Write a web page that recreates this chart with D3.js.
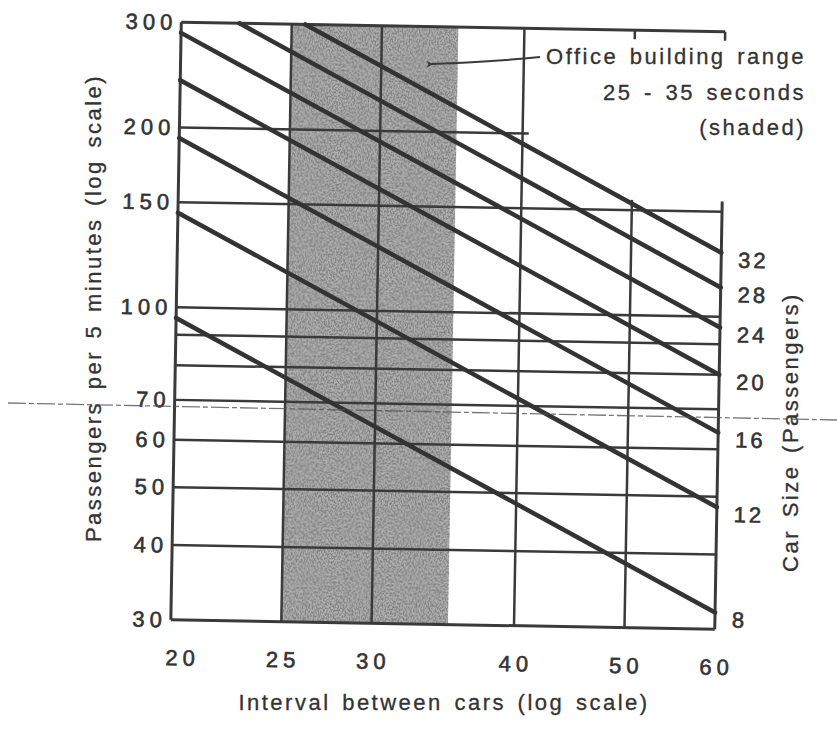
<!DOCTYPE html>
<html>
<head>
<meta charset="utf-8">
<script src="https://cdn.jsdelivr.net/npm/d3@7"></script>
<style>
  body { margin: 0; background: #fff; }
  svg { display: block; }
  text { font-family: "Liberation Sans", Arial, sans-serif; fill: #333; }
  .tick text { font-size: 22px; letter-spacing: 5px; stroke: #333; stroke-width: 0.6px; }
  .title { font-size: 22px; letter-spacing: 2.5px; word-spacing: 3px; stroke: #333; stroke-width: 0.3px; }
  .size { font-size: 22px; letter-spacing: 3px; stroke: #333; stroke-width: 0.6px; }
</style>
</head>
<body>
<svg id="chart" width="837" height="729"></svg>
<script>
// values
var xTicks = [20, 25, 30, 40, 50, 60];
var yTicks = [300, 200, 150, 100, 70, 60, 50, 40, 30];
var gridY = [300, 200, 150, 100, 90, 80, 70, 60, 50, 40, 30];
var gridYEnd = [60, 40.5, 60, 60, 60, 60, 60, 60, 60, 60, 60];
var gridX = [20, 25, 30, 40, 50, 60];
var gridXTop = [300, 300, 300, 300, 156, 156];
var topMarks = [50, 60];

var carSizes = [8, 12, 16, 20, 24, 28, 32];
var startInterval = [20, 20, 20, 20, 20, 22.5, 25.7];
var startPassengers = [96, 144, 192, 240, 288, 300, 300];
var endInterval = [60, 60, 60, 60, 60, 60, 60];
var endPassengers = [32, 48, 64, 80, 96, 112, 128];

var shadedRange = [25, 35];
var noteLines = ["Office building range", "25 - 35 seconds", "(shaded)"];

(function() {
  var svg = d3.select("#chart"),
      plot = {left: 176, right: 720, top: 27, bottom: 624.5},
      ink = "#3a3a3a";

  var x = d3.scaleLog().domain([20, 60]).range([plot.left, plot.right]),
      y = d3.scaleLog().domain([30, 300]).range([plot.bottom, plot.top]);

  var defs = svg.append("defs");

  var grain = defs.append("filter").attr("id", "grain")
      .attr("x", 0).attr("y", 0).attr("width", 1).attr("height", 1);
  grain.append("feTurbulence")
      .attr("type", "fractalNoise")
      .attr("baseFrequency", "0.7 0.5")
      .attr("numOctaves", 2)
      .attr("seed", 7)
      .attr("result", "noise");
  grain.append("feColorMatrix")
      .attr("in", "noise")
      .attr("type", "matrix")
      .attr("values", "0 0 0 0 0.22  0 0 0 0 0.22  0 0 0 0 0.22  4.5 0 0 0 -1.85")
      .attr("result", "specks");
  grain.append("feComposite")
      .attr("in", "specks").attr("in2", "SourceGraphic").attr("operator", "in");

  defs.append("marker").attr("id", "arrow")
      .attr("viewBox", "0 0 10 10")
      .attr("refX", 2).attr("refY", 5)
      .attr("markerWidth", 9).attr("markerHeight", 7)
      .attr("markerUnits", "userSpaceOnUse")
      .attr("orient", "auto-start-reverse")
    .append("path")
      .attr("d", "M0,5 L10,0 L7,5 L10,10 Z")
      .attr("fill", ink);

  // the scanned page sits about one degree off square
  var g = svg.append("g").attr("transform", "rotate(1,448,326)");

  // shaded office range
  g.append("rect")
      .attr("x", x(shadedRange[0]))
      .attr("y", y(300))
      .attr("width", x(shadedRange[1]) - x(shadedRange[0]))
      .attr("height", y(30) - y(300))
      .attr("fill", "#b0b0b0");
  g.append("rect")
      .attr("x", x(shadedRange[0]))
      .attr("y", y(300))
      .attr("width", x(shadedRange[1]) - x(shadedRange[0]))
      .attr("height", y(30) - y(300))
      .attr("fill", "#000")
      .attr("filter", "url(#grain)");

  // grid
  g.selectAll(".hgrid")
    .data(gridY)
    .enter().append("line")
      .attr("class", "hgrid")
      .attr("x1", x(20))
      .attr("x2", function(d, i) { return x(gridYEnd[i]); })
      .attr("y1", function(d) { return y(d); })
      .attr("y2", function(d) { return y(d); })
      .attr("stroke", ink)
      .attr("stroke-width", function(d) { return (d == 300 || d == 30) ? 3 : 2.5; });

  g.selectAll(".vgrid")
    .data(gridX)
    .enter().append("line")
      .attr("class", "vgrid")
      .attr("x1", function(d) { return x(d); })
      .attr("x2", function(d) { return x(d); })
      .attr("y1", function(d, i) { return y(gridXTop[i]); })
      .attr("y2", y(30))
      .attr("stroke", ink)
      .attr("stroke-width", function(d) { return (d == 20 || d == 60) ? 3 : 2.5; });

  g.selectAll(".topmark")
    .data(topMarks)
    .enter().append("line")
      .attr("x1", function(d) { return x(d); })
      .attr("x2", function(d) { return x(d); })
      .attr("y1", y(300))
      .attr("y2", y(300) + 9)
      .attr("stroke", ink)
      .attr("stroke-width", 2.5);

  // car size lines
  g.selectAll(".car")
    .data(carSizes)
    .enter().append("line")
      .attr("class", "car")
      .attr("x1", function(d, i) { return x(startInterval[i]); })
      .attr("y1", function(d, i) { return y(startPassengers[i]); })
      .attr("x2", function(d, i) { return x(endInterval[i]); })
      .attr("y2", function(d, i) { return y(endPassengers[i]); })
      .attr("stroke", "#333")
      .attr("stroke-width", 4.5)
      .attr("stroke-linecap", "round");

  // axes (labels only)
  var xAxis = g.append("g")
      .attr("transform", "translate(0," + plot.bottom + ")")
      .call(d3.axisBottom(x).tickValues(xTicks).tickFormat(d3.format("d"))
            .tickSize(0).tickPadding(30));
  xAxis.select(".domain").remove();
  xAxis.selectAll(".tick text")
      .attr("dx", function(d) { return d == 20 ? 12 : 2; });

  var yAxis = g.append("g")
      .attr("transform", "translate(" + plot.left + ",0)")
      .call(d3.axisLeft(y).tickValues(yTicks).tickFormat(d3.format("d"))
            .tickSize(0).tickPadding(4));
  yAxis.select(".domain").remove();

  g.selectAll(".size")
    .data(carSizes)
    .enter().append("text")
      .attr("class", "size")
      .attr("x", x(60) + 17)
      .attr("y", function(d, i) { return y(endPassengers[i]) + 7; })
      .attr("dy", "0.35em")
      .text(function(d) { return d; });

  // titles
  svg.append("text")
      .attr("class", "title")
      .attr("x", 444).attr("y", 710)
      .attr("text-anchor", "middle")
      .text("Interval between cars (log scale)");

  svg.append("text")
      .attr("class", "title")
      .attr("transform", "translate(101,308) rotate(-90)")
      .attr("text-anchor", "middle")
      .text("Passengers per 5 minutes (log scale)");

  svg.append("text")
      .attr("class", "title")
      .attr("transform", "translate(798,432) rotate(-90)")
      .attr("text-anchor", "middle")
      .text("Car Size (Passengers)");

  // note with arrow into the shaded band
  svg.selectAll(".note")
    .data(noteLines)
    .enter().append("text")
      .attr("class", "title")
      .attr("x", 806)
      .attr("y", function(d, i) { return [64, 100, 135][i]; })
      .attr("text-anchor", "end")
      .text(function(d) { return d; });

  svg.append("path")
      .attr("d", "M540,57 Q490,62 432,64")
      .attr("fill", "none")
      .attr("stroke", ink)
      .attr("stroke-width", 2)
      .attr("marker-end", "url(#arrow)");

  // fold line across the scanned page
  svg.append("line")
      .attr("x1", 8).attr("y1", 403)
      .attr("x2", 837).attr("y2", 420)
      .attr("stroke", "#555")
      .attr("stroke-width", 1.3)
      .attr("stroke-dasharray", "18,3,5,3")
      .attr("opacity", 0.8);
})();
</script>
</body>
</html>
